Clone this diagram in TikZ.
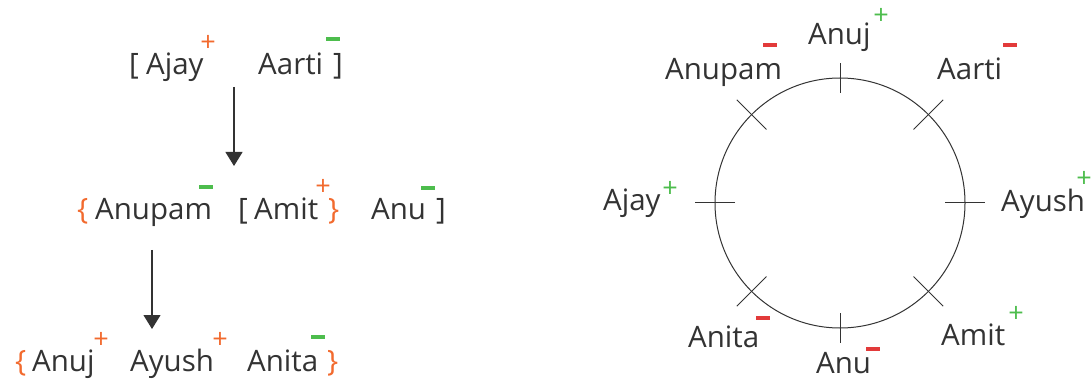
\documentclass[tikz,border=0pt]{standalone}
\usepackage{fontspec}
\setmainfont{Open Sans}
\usetikzlibrary{arrows.meta,calc}
\definecolor{txt}{HTML}{333333}
\definecolor{org}{HTML}{F26A2E}
\definecolor{grn}{HTML}{4DBD4D}
\definecolor{rd}{HTML}{E23A3A}
\tikzset{
  lbl/.style={anchor=base west, inner sep=0pt, text=txt, font=\fontsize{29.5}{32}\selectfont},
  brk/.style={lbl},
  obrk/.style={lbl, text=org},
  plus/.style={inner sep=0pt, font=\fontsize{27}{28}\selectfont},
  minus/.style={inner sep=0pt, minimum width=14pt, minimum height=3.4pt},
  arr/.style={draw=txt, line width=1.2pt, -{Triangle[width=17pt,length=14pt]}},
  tick/.style={draw=txt, line width=1pt},
}
\begin{document}
\begin{tikzpicture}[x=1pt,y=-1pt]
\useasboundingbox (0,0) rectangle (1092,379);
% ---- left: row 1
\node[brk] (b1) at (129,75) {[};
\node[lbl] (ajay1) at (146,75) {Ajay};
\node[plus, text=org] (p1) at (208,43) {+};
\node[lbl] (aarti1) at (258,75) {Aarti};
\node[brk] (b2) at (333,75) {]};
\node[minus, fill=grn] (m1) at (333,39) {};
% arrow 1
\coordinate (a1s) at (234,87);
\coordinate (a1e) at (234,166);
\draw[arr] (a1s) -- (a1e);
% ---- row 2
\node[obrk] (c1) at (77,220) {\{};
\node[lbl] (anupam2) at (95,220) {Anupam};
\node[minus, fill=grn] (m2) at (206,187) {};
\node[brk] (b3) at (238,220) {[};
\node[lbl] (amit2) at (254,220) {Amit};
\node[plus, text=org] (p2) at (323,187) {+};
\node[obrk] (c2) at (328,220) {\}};
\node[lbl] (anu2) at (371,220) {Anu};
\node[minus, fill=grn] (m3) at (428,188) {};
\node[brk] (b4) at (436,220) {]};
% arrow 2
\coordinate (a2s) at (152,250);
\coordinate (a2e) at (152,329);
\draw[arr] (a2s) -- (a2e);
% ---- row 3
\node[obrk] (c3) at (15,371) {\{};
\node[lbl] (anuj3) at (32,371) {Anuj};
\node[plus, text=org] (p3) at (101,340) {+};
\node[lbl] (ayush3) at (130,371) {Ayush};
\node[plus, text=org] (p4) at (220,340) {+};
\node[lbl] (anita3) at (247,371) {Anita};
\node[minus, fill=grn] (m4) at (318,337) {};
\node[obrk] (c4) at (327,371) {\}};
% ---- right: circle
\node[draw=txt, line width=1pt, circle, minimum size=250pt, inner sep=0pt] (C) at (840,203) {};
\foreach \ang/\len in {0/20,45/21,90/15,135/21,180/20,225/21,270/15,315/21}{
  \draw[tick] ($(C.center)+(\ang:125-\len)$) -- ($(C.center)+(\ang:125+\len)$);
}
% labels
\node[lbl] (anujR) at (808,45) {Anuj};
\node[plus, text=grn] (pR1) at (881,16) {+};
\node[lbl] (anupamR) at (665,80) {Anupam};
\node[minus, fill=rd] (mR1) at (770,45) {};
\node[lbl] (aartiR) at (937,80) {Aarti};
\node[minus, fill=rd] (mR2) at (1010,45) {};
\node[lbl] (ajayR) at (603,211) {Ajay};
\node[plus, text=grn] (pR2) at (670,189) {+};
\node[lbl] (ayushR) at (1001,212) {Ayush};
\node[plus, text=grn] (pR3) at (1084,179) {+};
\node[lbl] (anitaR) at (688,347) {Anita};
\node[minus, fill=rd] (mR3) at (763,318) {};
\node[lbl] (anuR) at (816,373) {Anu};
\node[minus, fill=rd] (mR4) at (873,349) {};
\node[lbl] (amitR) at (941,345) {Amit};
\node[plus, text=grn] (pR4) at (1016,314) {+};
\end{tikzpicture}
\end{document}
